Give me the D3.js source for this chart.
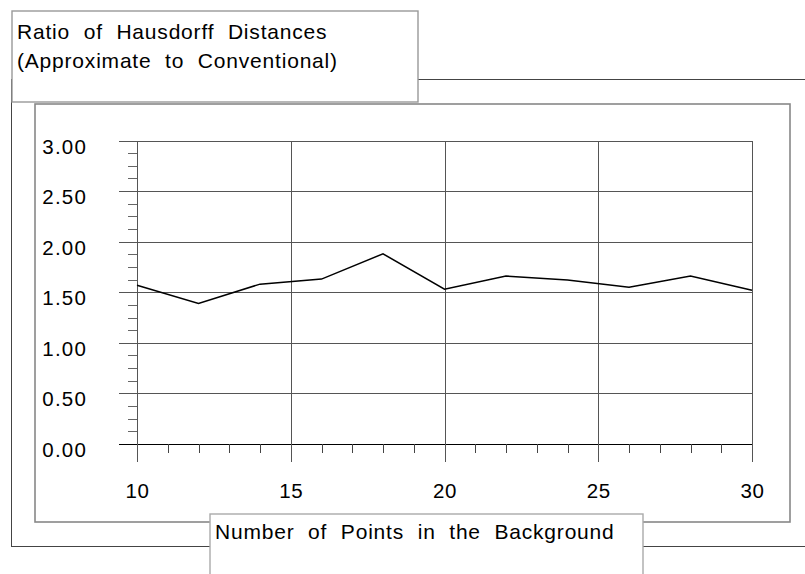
<!DOCTYPE html>
<html>
<head>
<meta charset="utf-8">
<script src="https://cdn.jsdelivr.net/npm/d3@7"></script>
<style>
  body { margin: 0; background: #fff; }
  svg { display: block; font-family: "Liberation Sans", Arial, sans-serif; }
</style>
</head>
<body>
<div id="chart"></div>
<script>
// data
var xValues = [10, 12, 14, 16, 18, 20, 22, 24, 26, 28, 30];
var ratios  = [1.57, 1.39, 1.58, 1.63, 1.88, 1.53, 1.66, 1.62, 1.55, 1.66, 1.52];
var xTicks  = [10, 15, 20, 25, 30];
var yTicks  = [0, 0.5, 1, 1.5, 2, 2.5, 3];
var titleLines = ["Ratio of Hausdorff Distances", "(Approximate to Conventional)"];
var xTitle = "Number of Points in the Background";

var W = 805, H = 574;
var svg = d3.select("#chart").append("svg").attr("width", W).attr("height", H);

var x = d3.scaleLinear().domain([10, 30]).range([137, 752]);
var y = d3.scaleLinear().domain([0, 3]).range([444, 140.5]);

// outer frame and plot frame
svg.append("rect").attr("x", 11.5).attr("y", 79.5).attr("width", 830).attr("height", 467)
   .attr("fill", "none").attr("stroke", "#444");
svg.append("rect").attr("x", 35).attr("y", 104).attr("width", 755).attr("height", 418)
   .attr("fill", "none").attr("stroke", "#888").attr("stroke-width", 1.6);

var g = svg.append("g").attr("shape-rendering", "crispEdges");

// horizontal grid lines (reach left of the axis as major ticks)
g.selectAll(".hgrid").data(yTicks).enter().append("line")
   .attr("x1", x(10) - 18).attr("x2", x(30))
   .attr("y1", function(d){ return Math.round(y(d)) + 0.5; })
   .attr("y2", function(d){ return Math.round(y(d)) + 0.5; })
   .attr("stroke", function(d){ return d == 0 ? "#000" : "#555"; });

// y minor ticks
var yMinor = d3.range(0, 3.001, 0.125).filter(function(v){ return Math.abs(v * 2 - Math.round(v * 2)) > 1e-6; });
g.selectAll(".yminor").data(yMinor).enter().append("line")
   .attr("x1", x(10) - 9).attr("x2", x(10))
   .attr("y1", function(d){ return Math.round(y(d)) + 0.5; })
   .attr("y2", function(d){ return Math.round(y(d)) + 0.5; })
   .attr("stroke", "#666");

// vertical grid lines (reach below the axis as major ticks)
g.selectAll(".vgrid").data(xTicks).enter().append("line")
   .attr("x1", function(d){ return Math.round(x(d)) + 0.5; })
   .attr("x2", function(d){ return Math.round(x(d)) + 0.5; })
   .attr("y1", y(3)).attr("y2", y(0) + 18)
   .attr("stroke", "#555");

// x minor ticks
var xMinor = d3.range(11, 30).filter(function(v){ return v % 5 != 0; });
g.selectAll(".xminor").data(xMinor).enter().append("line")
   .attr("x1", function(d){ return Math.round(x(d)) + 0.5; })
   .attr("x2", function(d){ return Math.round(x(d)) + 0.5; })
   .attr("y1", y(0)).attr("y2", y(0) + 9)
   .attr("stroke", "#444");

// tick labels
svg.selectAll(".ylab").data(yTicks).enter().append("text")
   .attr("x", 87).attr("y", function(d){ return y(d) + 13; })
   .attr("text-anchor", "end").attr("font-size", 20.5).attr("letter-spacing", 1.2)
   .text(function(d){ return d3.format(".2f")(d); });

svg.selectAll(".xlab").data(xTicks).enter().append("text")
   .attr("x", function(d){ return x(d) + 0.5; }).attr("y", 498)
   .attr("text-anchor", "middle").attr("font-size", 20.5).attr("letter-spacing", 0.6)
   .text(function(d){ return d; });

// the series
var line = d3.line().x(function(d){ return x(d[0]); }).y(function(d){ return y(d[1]); });
svg.append("path").datum(d3.zip(xValues, ratios))
   .attr("d", line).attr("fill", "none").attr("stroke", "#000").attr("stroke-width", 1.5);

// title box
svg.append("rect").attr("x", 12).attr("y", 11).attr("width", 406).attr("height", 91)
   .attr("fill", "#fff").attr("stroke", "#999").attr("stroke-width", 1.4);
svg.selectAll(".title").data(titleLines).enter().append("text")
   .attr("x", 17).attr("y", function(d, i){ return 38.5 + i * 29; })
   .attr("font-size", 21).attr("letter-spacing", 0.8).attr("word-spacing", 7)
   .text(function(d){ return d; });

// x axis title box
svg.append("rect").attr("x", 210).attr("y", 514).attr("width", 433).attr("height", 80)
   .attr("fill", "#fff").attr("stroke", "#aaa").attr("stroke-width", 1.4);
svg.append("text").attr("x", 215).attr("y", 538.5)
   .attr("font-size", 21).attr("letter-spacing", 0.8).attr("word-spacing", 7)
   .text(xTitle);
</script>
</body>
</html>
